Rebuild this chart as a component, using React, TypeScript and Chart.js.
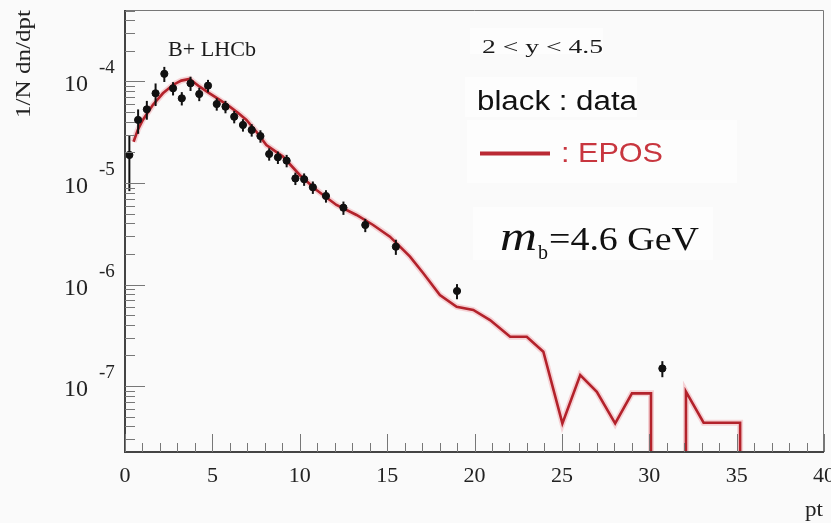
import React, { useEffect, useRef } from "react";
import { Chart, registerables } from "chart.js";

Chart.register(...registerables);

// Measured data (LHCb B+), pt bin centres and 1/N dN/dpt
const ptX = [0.25, 0.75, 1.25, 1.75, 2.25, 2.75, 3.25, 3.75, 4.25, 4.75, 5.25, 5.75, 6.25, 6.75, 7.25, 7.75, 8.25, 8.75, 9.25, 9.75, 10.25, 10.75, 11.5, 12.5, 13.75, 15.5, 19.0, 30.75];
const dataY = [1.89e-5, 4.18e-5, 5.32e-5, 7.65e-5, 1.19e-4, 8.57e-5, 6.83e-5, 9.6e-5, 7.53e-5, 9.1e-5, 6.0e-5, 5.65e-5, 4.5e-5, 3.73e-5, 3.33e-5, 2.9e-5, 1.93e-5, 1.79e-5, 1.66e-5, 1.11e-5, 1.09e-5, 9.08e-6, 7.45e-6, 5.71e-6, 3.86e-6, 2.36e-6, 8.63e-7, 1.49e-7];
// relative errors
const dataErr = [0.56, 0.27, 0.21, 0.25, 0.17, 0.15, 0.15, 0.16, 0.15, 0.14, 0.14, 0.14, 0.14, 0.14, 0.14, 0.14, 0.14, 0.14, 0.14, 0.14, 0.14, 0.14, 0.14, 0.15, 0.15, 0.17, 0.17, 0.18];

// EPOS curve
const eposX = [0.49, 0.73, 1.02, 1.59, 2.17, 2.74, 3.22, 3.7, 4.27, 4.84, 5.42, 5.99, 6.46, 6.95, 7.52, 8.09, 9.04, 10.0, 10.96, 12.1, 13.25, 14.2, 15.16, 16.31, 17.07, 18.02, 18.98, 19.93, 20.89, 22.04, 22.99, 23.94, 25.03, 26.05, 27.0, 28.05, 29.01, 30.1, 30.1, 32.1, 32.1, 33.11, 35.2, 35.2];
const eposY = [2.55e-5, 3.33e-5, 4.18e-5, 5.87e-5, 7.65e-5, 9.24e-5, 1.02e-4, 1.06e-4, 8.89e-5, 7.65e-5, 6.58e-5, 5.65e-5, 4.93e-5, 4.18e-5, 3.2e-5, 2.37e-5, 1.82e-5, 1.2e-5, 8.53e-6, 6.07e-6, 4.84e-6, 3.86e-6, 2.96e-6, 1.88e-6, 1.29e-6, 7.89e-7, 6.04e-7, 5.61e-7, 4.47e-7, 3.06e-7, 3.06e-7, 2.18e-7, 4.29e-8, 1.28e-7, 8.79e-8, 4.29e-8, 8.47e-8, 8.47e-8, 1e-9, 1e-9, 8.79e-8, 4.35e-8, 4.35e-8, 1e-9];

const X_MIN = 0;
const X_MAX = 40;
const Y_MIN = 2.24e-8;
const Y_MAX = 5.06e-4;
const xTickLabels = ["0", "5", "10", "15", "20", "25", "30", "35", "40"];
const yDecades = [-7, -6, -5, -4];

const SERIF = "'Liberation Serif', 'Times New Roman', serif";
const SANS = "'Liberation Sans', Arial, sans-serif";

function fitText(ctx: CanvasRenderingContext2D, text: string, x: number, y: number, w: number, font: string) {
  ctx.font = font;
  const m = ctx.measureText(text).width;
  ctx.save();
  ctx.translate(x, y);
  ctx.scale(w / m, 1);
  ctx.textAlign = "left";
  ctx.fillText(text, 0, 0);
  ctx.restore();
}

const overlay = {
  id: "overlay",
  beforeDraw(chart: any) {
    const ctx = chart.ctx;
    ctx.save();
    ctx.fillStyle = "#fafafa";
    ctx.fillRect(0, 0, chart.width, chart.height);
    ctx.restore();
  },
  beforeDatasetsDraw(chart: any) {
    const ctx = chart.ctx;
    ctx.save();
    ctx.fillStyle = "#fdfdfd";
    ctx.fillRect(470, 28, 133, 26);
    ctx.fillRect(465, 77, 172, 40);
    ctx.fillRect(467, 120, 270, 63);
    ctx.fillRect(473, 207, 240, 53);
    ctx.restore();
  },
  afterDatasetsDraw(chart: any) {
    const ctx = chart.ctx;
    const xs = chart.scales.x;
    const ys = chart.scales.y;
    ctx.save();
    ctx.strokeStyle = "#111";
    ctx.lineWidth = 2;
    for (let i = 0; i < ptX.length; i++) {
      const px = xs.getPixelForValue(ptX[i]);
      const hi = ys.getPixelForValue(dataY[i] * (1 + dataErr[i]));
      const lo = ys.getPixelForValue(dataY[i] * (1 - dataErr[i]));
      ctx.beginPath();
      ctx.moveTo(px, hi);
      ctx.lineTo(px, lo);
      ctx.stroke();
    }
    ctx.restore();
  },
  afterDraw(chart: any) {
    const ctx = chart.ctx;
    const a = chart.chartArea;
    const xs = chart.scales.x;
    const ys = chart.scales.y;
    ctx.save();
    // frame
    ctx.strokeStyle = "#777";
    ctx.lineWidth = 1;
    ctx.beginPath();
    ctx.moveTo(a.left, a.top + 0.5);
    ctx.lineTo(a.right - 0.5, a.top + 0.5);
    ctx.lineTo(a.right - 0.5, a.bottom);
    ctx.stroke();
    ctx.strokeStyle = "#444";
    ctx.lineWidth = 2;
    ctx.beginPath();
    ctx.moveTo(a.left, a.top);
    ctx.lineTo(a.left, a.bottom);
    ctx.lineTo(a.right, a.bottom);
    ctx.stroke();

    // y ticks (inward)
    ctx.strokeStyle = "#777";
    ctx.lineWidth = 1;
    for (let e = -8; e <= -3; e++) {
      for (let m = 1; m <= 9; m++) {
        const v = m * Math.pow(10, e);
        if (v < Y_MIN || v > Y_MAX) continue;
        const py = Math.round(ys.getPixelForValue(v)) + 0.5;
        const len = m === 1 ? 20 : 10;
        ctx.beginPath();
        ctx.moveTo(a.left, py);
        ctx.lineTo(a.left + len, py);
        ctx.stroke();
      }
    }
    // x ticks (inward)
    for (let i = X_MIN; i <= X_MAX; i++) {
      const px = Math.round(xs.getPixelForValue(i)) + 0.5;
      const len = i % 5 === 0 ? 18 : 9;
      ctx.beginPath();
      ctx.moveTo(px, a.bottom);
      ctx.lineTo(px, a.bottom - len);
      ctx.stroke();
    }

    ctx.fillStyle = "#222";
    // x labels
    ctx.font = `22px ${SERIF}`;
    ctx.textAlign = "center";
    ctx.textBaseline = "alphabetic";
    for (const lab of xTickLabels) {
      const px = xs.getPixelForValue(Number(lab));
      ctx.fillText(lab, px, 482);
    }
    // y labels
    for (const e of yDecades) {
      const py = ys.getPixelForValue(Math.pow(10, e));
      ctx.font = `24px ${SERIF}`;
      ctx.textAlign = "right";
      ctx.fillText("10", 88, py + 10);
      ctx.font = `19px ${SERIF}`;
      ctx.textAlign = "left";
      ctx.fillText(String(e), 99, py - 8);
    }
    // axis titles
    ctx.textAlign = "left";
    fitText(ctx, "pt", 805, 516, 18, `22px ${SERIF}`);
    ctx.save();
    ctx.translate(30, 118);
    ctx.rotate(-Math.PI / 2);
    fitText(ctx, "1/N dn/dpt", 0, 0, 108, `22px ${SERIF}`);
    ctx.restore();

    // annotations
    ctx.fillStyle = "#1a1a1a";
    fitText(ctx, "B+ LHCb", 168, 56, 88, `20px ${SERIF}`);
    fitText(ctx, "2 < y < 4.5", 482, 53, 121, `19px ${SERIF}`);
    ctx.fillStyle = "#111";
    fitText(ctx, "black : data", 477, 110, 160, `27px ${SANS}`);
    ctx.strokeStyle = "#bb2a34";
    ctx.lineWidth = 4;
    ctx.beginPath();
    ctx.moveTo(480, 153.5);
    ctx.lineTo(550, 153.5);
    ctx.stroke();
    ctx.fillStyle = "#c8363f";
    fitText(ctx, ": EPOS", 561, 162, 102, `28px ${SANS}`);
    ctx.fillStyle = "#111";
    fitText(ctx, "m", 500, 250, 37, `italic 39px ${SERIF}`);
    fitText(ctx, "b", 538, 259, 10, `21px ${SERIF}`);
    fitText(ctx, "=4.6 GeV", 549, 250, 150, `34px ${SERIF}`);
    ctx.restore();
  },
};

export default function App() {
  const ref = useRef<HTMLCanvasElement | null>(null);
  useEffect(() => {
    if (!ref.current) return;
    const eposData = eposX.map((x, i) => ({ x, y: eposY[i] }));
    const pts = ptX.map((x, i) => ({ x, y: dataY[i] }));
    const chart = new Chart(ref.current, {
      type: "scatter",
      data: {
        datasets: [
          {
            type: "line",
            label: "halo",
            data: eposData,
            borderColor: "rgba(235,120,130,0.3)",
            borderWidth: 6,
            pointRadius: 0,
            tension: 0,
            clip: 0,
            order: 3,
          } as any,
          {
            type: "line",
            label: "EPOS",
            data: eposData,
            borderColor: "#b3222b",
            borderWidth: 2.6,
            pointRadius: 0,
            tension: 0,
            clip: 0,
            order: 2,
          } as any,
          {
            type: "scatter",
            label: "data",
            data: pts,
            backgroundColor: "#111",
            borderColor: "#111",
            pointRadius: 3.6,
            pointStyle: "circle",
            order: 1,
          } as any,
        ],
      },
      options: {
        animation: false,
        responsive: true,
        maintainAspectRatio: false,
        devicePixelRatio: 1,
        layout: { padding: { left: 125, top: 10, right: 7, bottom: 71 } },
        plugins: { legend: { display: false }, tooltip: { enabled: false } },
        events: [],
        scales: {
          x: { type: "linear", min: X_MIN, max: X_MAX, display: false },
          y: { type: "logarithmic", min: Y_MIN, max: Y_MAX, display: false },
        },
      },
      plugins: [overlay],
    });
    return () => chart.destroy();
  }, []);
  return (
    <div style={{ position: "absolute", left: 0, top: 0, width: 831, height: 523, background: "#fafafa" }}>
      <canvas ref={ref} />
    </div>
  );
}
